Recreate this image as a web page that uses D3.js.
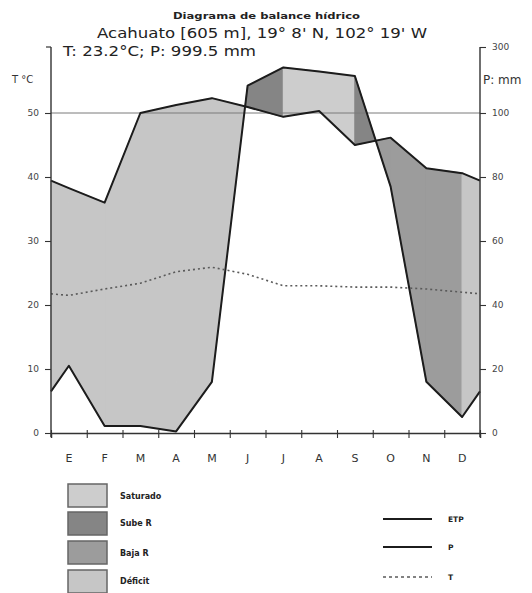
<!DOCTYPE html>
<html><head><meta charset="utf-8">
<script src="https://cdn.jsdelivr.net/npm/d3@7"></script>
<style>body{margin:0;background:#fff}svg{display:block}</style>
</head><body><svg id="c" width="532" height="593"></svg>
<script>
// ---- data ----
const meses = ["E","F","M","A","M","J","J","A","S","O","N","D"];
const temperatura = [21.5,22.5,23.4,25.2,25.9,24.8,23.0,23.0,22.8,22.8,22.5,22.0];
const precipitacion = [21,2.2,2.2,0.5,16,183,238,226,212,77,16,5];
const etp = [76.5,72,100,124,145,118,98.8,106,90,92.3,82.7,81.2];
const ticksT = [0,10,20,30,40,50];
const ticksP = [0,20,40,60,80,100,300];
// state of each stretch between consecutive points (edge, 12 months, edge)
const tramoExceso = ["Saturado","Saturado","Saturado","Saturado","Saturado","Sube R","Sube R","Saturado","Saturado","Sube R","Sube R","Sube R","Saturado"];
const tramoFalta  = ["Déficit","Déficit","Déficit","Déficit","Déficit","Déficit","Baja R","Baja R","Baja R","Baja R","Baja R","Baja R","Déficit"];
const categorias = ["Saturado","Sube R","Baja R","Déficit"];
const colores = ["#cdcdcd","#858585","#9c9c9c","#c6c6c6"];
const seriesLeyenda = ["ETP","P","T"];

// ---- scales ----
const svg = d3.select("#c");
const x = d3.scaleLinear().domain([0,12]).range([51,480]);
const yT = d3.scaleLinear().domain([0,50]).range([433,113]);
const yP = d3.scaleLinear().domain([0,100,300]).range([433,113,47]);
const color = d3.scaleOrdinal().domain(categorias).range(colores);

function conBordes(arr){
  const e = (arr[0]+arr[11])/2;
  return [{i:0,v:e}].concat(arr.map((v,k)=>({i:k+0.5,v:v}))).concat([{i:12,v:e}]);
}
const P = conBordes(precipitacion), E = conBordes(etp), T = conBordes(temperatura);

// ---- fills ----
const polys = [];
for (let k=0;k<12+1;k++){
  const a0 = {x:x(P[k].i), p:yP(P[k].v), e:yP(E[k].v)};
  const a1 = {x:x(P[k+1].i), p:yP(P[k+1].v), e:yP(E[k+1].v)};
  const s0 = a0.e - a0.p, s1 = a1.e - a1.p;
  if ((s0>=0 && s1>=0) || (s0<=0 && s1<=0)){
    polys.push({pts:[[a0.x,a0.e],[a1.x,a1.e],[a1.x,a1.p],[a0.x,a0.p]], cat:(s0+s1>0)?tramoExceso[k]:tramoFalta[k]});
  } else {
    const t = s0/(s0-s1);
    const cx = a0.x + t*(a1.x-a0.x), cy = a0.p + t*(a1.p-a0.p);
    polys.push({pts:[[a0.x,a0.e],[cx,cy],[a0.x,a0.p]], cat:s0>0?tramoExceso[k]:tramoFalta[k]});
    polys.push({pts:[[cx,cy],[a1.x,a1.e],[a1.x,a1.p]], cat:s1>0?tramoExceso[k]:tramoFalta[k]});
  }
}
svg.append("g").selectAll("path").data(polys).join("path")
  .attr("d", d => "M"+d.pts.map(p=>p.join(",")).join("L")+"Z")
  .attr("fill", d=>color(d.cat)).attr("stroke", d=>color(d.cat)).attr("stroke-width",1.2)
  .attr("stroke-linejoin","round");

// 100 mm / 50 °C reference line
svg.append("line").attr("x1",x(0)).attr("x2",x(12)).attr("y1",yP(100)).attr("y2",yP(100))
  .attr("stroke","#7a7a7a").attr("stroke-width",1);

// ---- lines ----
const lineP = d3.line().x(d=>x(d.i)).y(d=>yP(d.v));
const lineT = d3.line().x(d=>x(d.i)).y(d=>yT(d.v));
svg.append("path").attr("d", lineP(E)).attr("fill","none").attr("stroke","#1c1c1c").attr("stroke-width",2).attr("stroke-linejoin","round");
svg.append("path").attr("d", lineP(P)).attr("fill","none").attr("stroke","#1c1c1c").attr("stroke-width",2).attr("stroke-linejoin","round");
svg.append("path").attr("d", lineT(T)).attr("fill","none").attr("stroke","#5a5a5a").attr("stroke-width",1.6).attr("stroke-dasharray","2,3");

// ---- axes ----
const axCol = "#333";
svg.append("line").attr("x1",x(0)).attr("x2",x(0)).attr("y1",47).attr("y2",437).attr("stroke",axCol).attr("stroke-width",1.4);
svg.append("line").attr("x1",x(0)-5).attr("x2",x(0)).attr("y1",47).attr("y2",47).attr("stroke",axCol).attr("stroke-width",1.2);
svg.append("line").attr("x1",x(12)).attr("x2",x(12)).attr("y1",47).attr("y2",437).attr("stroke",axCol).attr("stroke-width",1.4);

const gL = svg.append("g").attr("transform",`translate(${x(0)},0)`)
  .call(d3.axisLeft(yT).tickValues(ticksT).tickSize(6).tickPadding(6));
const gR = svg.append("g").attr("transform",`translate(${x(12)},0)`)
  .call(d3.axisRight(yP).tickValues(ticksP).tickSize(6).tickPadding(6));
[gL,gR].forEach(g=>{
  g.select(".domain").remove();
  g.selectAll(".tick line").attr("stroke",axCol).attr("stroke-width",1.1);
  g.selectAll(".tick text").attr("font-family","DejaVu Sans, sans-serif").attr("font-size",9).attr("fill","#444");
});

const gX = svg.append("g").attr("transform",`translate(0,${yT(0)})`)
  .call(d3.axisBottom(x).tickValues(d3.range(0,13)).tickFormat("").tickSize(5));
gX.select(".domain").attr("stroke",axCol).attr("stroke-width",1.4);
gX.selectAll(".tick line").attr("y1",-3).attr("stroke",axCol).attr("stroke-width",1.1);
svg.append("g").selectAll("text").data(meses).join("text")
  .attr("x",(d,i)=>x(i+0.5)).attr("y",462).attr("text-anchor","middle")
  .attr("font-family","DejaVu Sans, sans-serif").attr("font-size",11).attr("fill","#333").text(d=>d);

// ---- titles ----
const F = "DejaVu Sans, sans-serif";
svg.append("text").attr("x",173).attr("y",19).attr("font-family",F).attr("font-weight","bold").attr("font-size",9.5)
  .attr("textLength",187).attr("lengthAdjust","spacingAndGlyphs").attr("fill","#222").text("Diagrama de balance hídrico");
svg.append("text").attr("x",97).attr("y",38).attr("font-family",F).attr("font-size",13.5)
  .attr("textLength",330).attr("lengthAdjust","spacingAndGlyphs").attr("fill","#222").text("Acahuato [605 m], 19° 8' N, 102° 19' W");
svg.append("text").attr("x",63).attr("y",56).attr("font-family",F).attr("font-size",13.5)
  .attr("textLength",193).attr("lengthAdjust","spacingAndGlyphs").attr("fill","#222").text("T: 23.2°C; P: 999.5 mm");
svg.append("text").attr("x",12).attr("y",83).attr("font-family",F).attr("font-size",10).attr("fill","#333").text("T °C");
svg.append("text").attr("x",483).attr("y",84).attr("font-family",F).attr("font-size",12).attr("fill","#333").text("P: mm");

// ---- legend ----
const lg = svg.append("g");
lg.selectAll("rect").data(categorias).join("rect")
  .attr("x",68).attr("y",(d,i)=>[484,512,541,570][i]).attr("width",39).attr("height",23)
  .attr("fill",d=>color(d)).attr("stroke","#666").attr("stroke-width",1.5);
lg.selectAll("text.c").data(categorias).join("text").attr("class","c")
  .attr("x",120).attr("y",(d,i)=>[499,526,556,584][i]).attr("font-family",F).attr("font-weight","bold")
  .attr("font-size",8).attr("fill","#222").text(d=>d);
const ly = [519,547,577];
lg.selectAll("line").data(seriesLeyenda).join("line")
  .attr("x1",383).attr("x2",432).attr("y1",(d,i)=>ly[i]).attr("y2",(d,i)=>ly[i])
  .attr("stroke",(d,i)=>i<2?"#1c1c1c":"#5a5a5a").attr("stroke-width",(d,i)=>i<2?2:1.4)
  .attr("stroke-dasharray",(d,i)=>i<2?null:"3,3");
lg.selectAll("text.s").data(seriesLeyenda).join("text").attr("class","s")
  .attr("x",448).attr("y",(d,i)=>ly[i]+3).attr("font-family",F).attr("font-weight","bold")
  .attr("font-size",7.5).attr("fill","#222").text(d=>d);
</script></body></html>
